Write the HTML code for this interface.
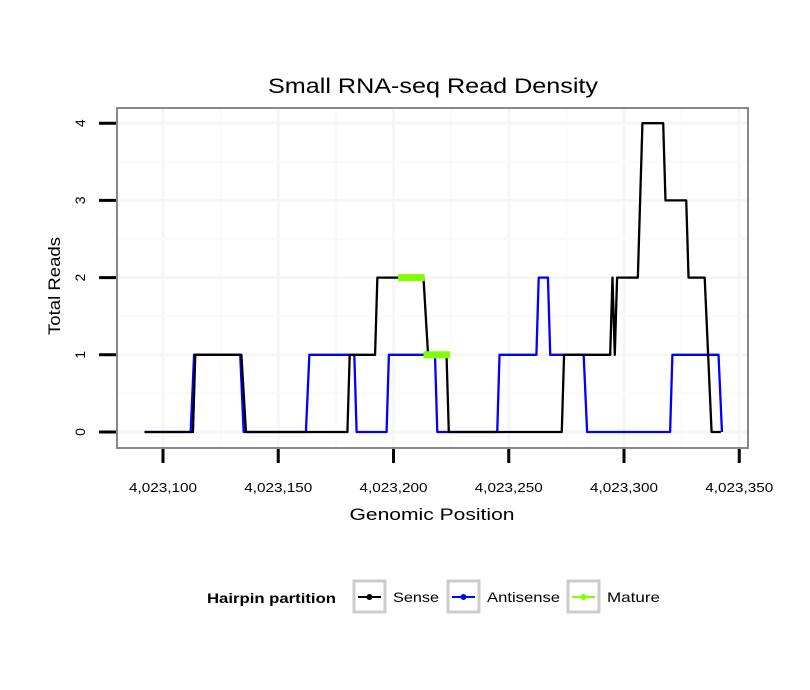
<!DOCTYPE html>
<html><head><meta charset="utf-8"><style>body{margin:0;background:#fff}svg{display:block;font-family:"Liberation Sans",sans-serif}</style></head>
<body>
<svg id="chart" width="810" height="690" viewBox="0 0 810 690">
<text x="433" y="93" font-size="21" text-anchor="middle" textLength="330" lengthAdjust="spacingAndGlyphs">Small RNA-seq Read Density</text>
<g id="grid"></g>
<g id="series"></g>
<rect x="117" y="108" width="631" height="340" fill="none" stroke="#888" stroke-width="2"/>
<g id="axes"></g>
<text x="432" y="520" font-size="17" text-anchor="middle" textLength="165" lengthAdjust="spacingAndGlyphs">Genomic Position</text>
<text transform="translate(60,286) rotate(-90)" font-size="17" text-anchor="middle" textLength="98" lengthAdjust="spacingAndGlyphs">Total Reads</text>
<g>
<text x="207" y="603" font-size="14" font-weight="bold" textLength="129" lengthAdjust="spacingAndGlyphs">Hairpin partition</text>
<g><rect x="354" y="581" width="31" height="31" fill="#fff" stroke="#ccc" stroke-width="3"/><line x1="358" y1="597" x2="381" y2="597" stroke="#000" stroke-width="2"/><circle cx="369.5" cy="597" r="3" fill="#000"/><text x="393" y="602" font-size="14" textLength="46" lengthAdjust="spacingAndGlyphs">Sense</text></g>
<g><rect x="448" y="581" width="31" height="31" fill="#fff" stroke="#ccc" stroke-width="3"/><line x1="452" y1="597" x2="475" y2="597" stroke="#00f" stroke-width="2"/><circle cx="463.5" cy="597" r="3" fill="#00f"/><text x="487" y="602" font-size="14" textLength="73" lengthAdjust="spacingAndGlyphs">Antisense</text></g>
<g><rect x="568" y="581" width="31" height="31" fill="#fff" stroke="#ccc" stroke-width="3"/><line x1="572" y1="597" x2="595" y2="597" stroke="#7fff00" stroke-width="2"/><circle cx="583.5" cy="597" r="3" fill="#7fff00"/><text x="607" y="602" font-size="14" textLength="53" lengthAdjust="spacingAndGlyphs">Mature</text></g>
</g>
</svg>
<script>
const xTicks=[4023100,4023150,4023200,4023250,4023300,4023350];
const xTickLabels=["4,023,100","4,023,150","4,023,200","4,023,250","4,023,300","4,023,350"];
const yTicks=[0,1,2,3,4];
const senseX=[4023092,4023113,4023114,4023134,4023136,4023180,4023181,4023192,4023193,4023213,4023215,4023223,4023224,4023273,4023274,4023294,4023295,4023296,4023297,4023306,4023308,4023317,4023318,4023327,4023328,4023335,4023338,4023342];
const senseY=[0,0,1,1,0,0,1,1,2,2,1,1,0,0,1,1,2,1,2,2,4,4,3,3,2,2,0,0];
const antiX=[4023092,4023112,4023113.5,4023133.5,4023135,4023162,4023163.5,4023183,4023184,4023197,4023198,4023218,4023219,4023245,4023246,4023262,4023263,4023267,4023268,4023282.5,4023284,4023320,4023321,4023341,4023342.5];
const antiY=[0,0,1,1,0,0,1,1,0,0,1,1,0,0,1,1,2,2,1,1,0,0,1,1,0];
const matureSegX=[[4023202,4023213.5],[4023213,4023224.5]];
const matureSegY=[2,1];
const X=v=>163+(v-4023100)*2.305;
const Y=v=>432-v*77.2;
const NS="http://www.w3.org/2000/svg";
function mk(t,a,p){const e=document.createElementNS(NS,t);for(const k in a)e.setAttribute(k,a[k]);p.appendChild(e);return e;}
const grid=document.getElementById('grid'),axes=document.getElementById('axes'),ser=document.getElementById('series');
for(let i=0;i<xTicks.length;i++){const x=X(xTicks[i]);
 const g=mk('line',{x1:x,x2:x,y1:109,y2:447,stroke:'#f6f6f6','stroke-width':3},grid);
 
 
 if(i<xTicks.length-1){const m=mk('line',{x1:X(xTicks[i]+25),x2:X(xTicks[i]+25),y1:109,y2:447,stroke:'#fafafa','stroke-width':2},grid);
 
 }
 const t=mk('line',{x1:x,x2:x,y1:449,y2:463,stroke:'#000','stroke-width':3},axes);
 
 
 const l=mk('text',{x:x,y:492,'font-size':13,'text-anchor':'middle',textLength:68,lengthAdjust:'spacingAndGlyphs'},axes);l.textContent=xTickLabels[i];
 
 }
for(let i=0;i<yTicks.length;i++){const y=Y(yTicks[i]);
 const g=mk('line',{x1:118,x2:747,y1:y,y2:y,stroke:'#f6f6f6','stroke-width':3},grid);
 
 
 if(i<yTicks.length-1){const m=mk('line',{x1:118,x2:747,y1:Y(yTicks[i]+0.5),y2:Y(yTicks[i]+0.5),stroke:'#fafafa','stroke-width':2},grid);
 
 }
 const t=mk('line',{x1:99,x2:116,y1:y,y2:y,stroke:'#000','stroke-width':3},axes);
 
 
 const l=mk('text',{transform:`translate(85,${y}) rotate(-90)`,'font-size':14,'text-anchor':'middle'},axes);l.textContent=yTicks[i];
 
 }
function line(xs,ys,col,name){const p=mk('polyline',{points:xs.map((v,i)=>X(v)+','+Y(ys[i])).join(' '),fill:'none',stroke:col,'stroke-width':2.3,'stroke-linejoin':'round'},ser);
 
 }
line(antiX,antiY,'#00f','antisense-line');
line(senseX,senseY,'#000','sense-line');
for(let i=0;i<matureSegX.length;i++){const s=mk('line',{x1:X(matureSegX[i][0]),x2:X(matureSegX[i][1]),y1:Y(matureSegY[i]),y2:Y(matureSegY[i]),stroke:'#7fff00','stroke-width':7,'stroke-linecap':'butt'},ser);
 
 }
</script>
</body></html>
